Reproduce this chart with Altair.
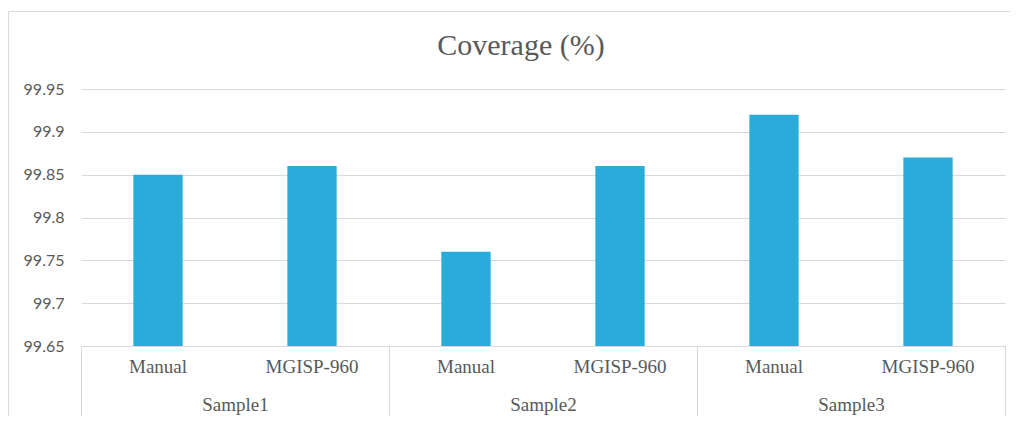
import altair as alt
import pandas as pd

# ---- data ----
samples = ["Sample1", "Sample1", "Sample2", "Sample2", "Sample3", "Sample3"]
methods = ["Manual", "MGISP-960", "Manual", "MGISP-960", "Manual", "MGISP-960"]
coverage = [99.85, 99.86, 99.76, 99.86, 99.92, 99.87]
y_ticks = [99.65, 99.7, 99.75, 99.8, 99.85, 99.9, 99.95]
title_text = "Coverage (%)"

df = pd.DataFrame({"sample": samples, "method": methods, "coverage": coverage})
df["key"] = df["sample"] + "|" + df["method"]
df["base"] = y_ticks[0]
keys = list(df["key"])

W, H = 924, 257
GREY_TEXT = "#595959"
GRID = "#D9D9D9"
BAR = "#29ACD9"
SERIF = "Liberation Serif"
SANS = "Lato"

yscale = alt.Scale(domain=[y_ticks[0], y_ticks[-1]], zero=False, nice=False)

bars = alt.Chart(df).mark_bar(color=BAR).encode(
    x=alt.X(
        "key:N", sort=keys,
        scale=alt.Scale(paddingInner=0.68, paddingOuter=0.34),
        axis=alt.Axis(
            title=None, orient="bottom", labelExpr="split(datum.value, '|')[1]",
            labelAngle=0, ticks=False, tickSize=0, labelPadding=11,
            domain=True, domainColor=GRID, domainWidth=1,
            labelFont=SERIF, labelFontSize=19, labelColor=GREY_TEXT, grid=False,
        ),
    ),
    y=alt.Y(
        "coverage:Q", scale=yscale,
        axis=alt.Axis(
            values=y_ticks, format=".2~f", title=None, domain=False, ticks=False,
            tickSize=0, labelPadding=17, labelFont=SANS, labelFontSize=16,
            labelColor=GREY_TEXT, grid=True, gridColor=GRID, gridWidth=1,
        ),
    ),
    y2="base:Q",
)

groups = alt.Chart(df).mark_text(text="", opacity=0).encode(
    x=alt.X(
        "sample:N",
        scale=alt.Scale(paddingInner=0, paddingOuter=0),
        axis=alt.Axis(
            title=None, orient="bottom", ticks=True, tickBand="extent", tickSize=71,
            tickColor=GRID, tickWidth=1, domain=False, labelPadding=-22, labelAngle=0,
            labelFont=SERIF, labelFontSize=19, labelColor=GREY_TEXT, grid=False,
        ),
    ),
)

frame = alt.Chart(pd.DataFrame({"f": [0]})).mark_rect(filled=False, color=GRID, strokeWidth=1).encode(
    x=alt.value(-72.5), x2=alt.value(W + 40), y=alt.value(-77.5), y2=alt.value(H + 90)
)

chart = (
    alt.layer(frame, bars, groups)
    .resolve_scale(x="independent")
    .properties(
        width=W, height=H,
        autosize=alt.AutoSizeParams(type="none"),
        padding={"left": 73, "top": 81, "right": 5, "bottom": 70},
        title=alt.Title(
            title_text, font=SERIF, fontSize=30, color=GREY_TEXT, fontWeight="normal",
            offset=-50, dx=-22, anchor="middle",
        ),
        background="white",
    )
    .configure_view(stroke="transparent")
)

chart.save("out.html", embed_options={"renderer": "svg", "actions": False})
